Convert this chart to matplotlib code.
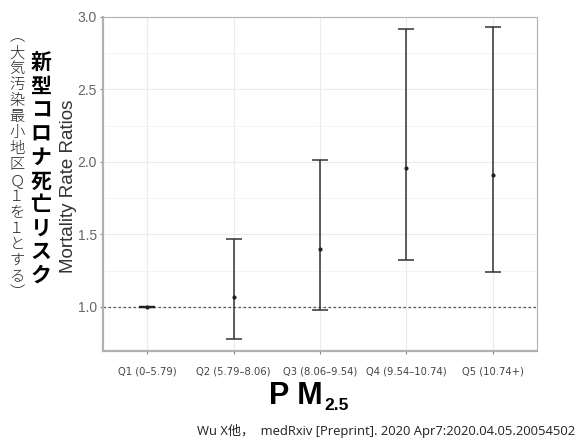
import matplotlib
matplotlib.use("Agg")
import matplotlib.pyplot as plt
import numpy as np

# ── Data ─────────────────────────────────────────────────────────────────────
groups = ["Q1 (0\u20135.79)", "Q2 (5.79\u20138.06)", "Q3 (8.06\u20139.54)",
          "Q4 (9.54\u201310.74)", "Q5 (10.74+)"]
mrr = [1.00, 1.07, 1.40, 1.96, 1.91]
ci_low = [1.00, 0.78, 0.98, 1.32, 1.24]
ci_high = [1.00, 1.47, 2.01, 2.92, 2.93]
y_ticks = [1.0, 1.5, 2.0, 2.5, 3.0]

title_jp = "新型コロナ死亡リスク"
note_jp = "︵大気汚染最小地区Ｑ１を１とする︶"
citation = "Wu X他，  medRxiv [Preprint]. 2020 Apr7:2020.04.05.20054502"

W, H = 583, 442


def vtext(chars, x_px, y_top_px, pitch_px, **kw):
    """Stack characters vertically, one per position (tategaki)."""
    for i, ch in enumerate(chars):
        fig.text(x_px / W, 1 - (y_top_px + i * pitch_px) / H, ch,
                 ha="center", va="center", **kw)


# ── Figure ───────────────────────────────────────────────────────────────────
fig = plt.figure(figsize=(W / 100, H / 100), dpi=100)
ax = fig.add_axes([103 / W, 1 - 351 / H, (537 - 103) / W, (351 - 17) / H])

x = np.arange(1, len(groups) + 1)
mrr_a = np.array(mrr)
yerr = [mrr_a - np.array(ci_low), np.array(ci_high) - mrr_a]

ax.axhline(1.0, color="#555555", linestyle=(0, (2, 2)), linewidth=0.9, zorder=1)
ax.errorbar(x, mrr, yerr=yerr, fmt="o", color="#222222", markersize=2,
            ecolor="#333333", elinewidth=1.1, capsize=6, capthick=1.1, zorder=3)
# Q1 interval collapses to a point: show it as a short thick bar
ax.errorbar([x[0]], [mrr[0]], yerr=[[0.002], [0.002]], fmt="none",
            ecolor="#222222", capsize=6, capthick=1.6, zorder=3)

ax.set_xlim(0.49, 5.51)
ax.set_ylim(0.695, 3.0)
ax.set_xticks(x)
ax.set_xticklabels(groups, fontsize=7.2, color="#444444",
                   family=["Liberation Sans Narrow", "DejaVu Sans"])
ax.set_yticks(y_ticks)
ax.set_yticklabels([f"{v:.1f}" for v in y_ticks], fontsize=10, color="#666666",
                   family="Liberation Sans")
ax.set_yticks([1.25, 1.75, 2.25, 2.75], minor=True)
ax.tick_params(axis="both", length=2.5, color="#888888", pad=2)
ax.tick_params(axis="x", pad=9)
ax.tick_params(which="minor", length=0)
ax.grid(True, which="major", color="#ebebeb", linewidth=0.8)
ax.grid(True, which="minor", axis="y", color="#f2f2f2", linewidth=0.6)
ax.set_axisbelow(True)
for name, spine in ax.spines.items():
    spine.set_color("#b0b0b0")
    spine.set_linewidth(1.6 if name in ("left", "bottom") else 0.8)

ax.set_ylabel("Mortality Rate Ratios", fontsize=13.5, color="#333333",
              family="Liberation Sans")
ax.yaxis.set_label_coords((77 - 103) / (537 - 103), (351 - 186) / (351 - 17))

# vertical Japanese labels
vtext(title_jp, 41, 63, 23.6, fontsize=15, fontweight="bold",
      family="Noto Sans CJK JP", color="#000000")
vtext(note_jp, 17, 37, 16.0, fontsize=11, fontweight="light",
      family="Noto Sans CJK JP", color="#222222")

# x title
fig.text(323 / W, 1 - 396 / H, "P M", ha="right", va="center",
         fontsize=22, fontweight="bold", family="Liberation Sans")
fig.text(324 / W, 1 - 406 / H, "2.5", ha="left", va="center",
         fontsize=12.5, fontweight="bold", family="Liberation Sans")

fig.text(575 / W, 1 - 431 / H, citation, ha="right", va="center",
         fontsize=9.4, family=["Open Sans", "Noto Sans CJK JP"], color="#222222")

fig.savefig("out.png", dpi=100)
